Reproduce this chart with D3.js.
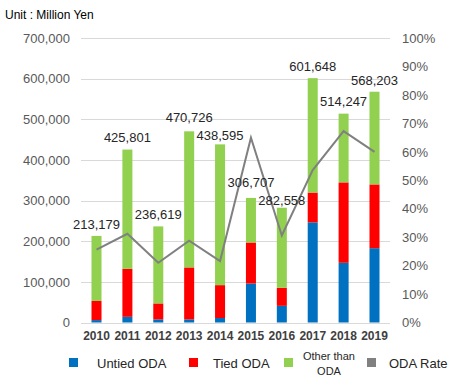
<!DOCTYPE html>
<html><head><meta charset="utf-8">
<script src="https://cdn.jsdelivr.net/npm/d3@7"></script>
<style>body{margin:0;background:#fff}svg{display:block}text{font-family:"Liberation Sans",Arial,sans-serif}</style>
</head><body><svg id="c" width="462" height="388"></svg>
<script>
const years = ["2010","2011","2012","2013","2014","2015","2016","2017","2018","2019"];
const untied = [6000, 14000, 7600, 7600, 11000, 96000, 41000, 246500, 147000, 183000];
const tied = [47000, 118000, 39400, 128000, 81000, 101000, 44500, 73500, 198000, 157000];
const totals = [213179, 425801, 236619, 470726, 438595, 306707, 282558, 601648, 514247, 568203];
const odaRate = [25.6, 31.2, 21.0, 28.8, 21.6, 65.0, 30.6, 53.6, 67.3, 60.0];
const leftTicks = [0,100000,200000,300000,400000,500000,600000,700000];
const rightTicks = [0,10,20,30,40,50,60,70,80,90,100];
const seriesNames = ["Untied ODA","Tied ODA","Other than ODA","ODA Rate"];
const colors = ["#0070C0","#FF0000","#92D050","#808080"];

const other = totals.map((t,i)=>t-untied[i]-tied[i]);
const svg = d3.select("#c");
const x = d3.scaleBand().domain(years).range([81,390]).paddingInner(0.676).paddingOuter(0.34);
const y = d3.scaleLinear().domain([0,700000]).range([322.5,38.2]);
const y2 = d3.scaleLinear().domain([0,100]).range([322.5,38.2]);
const FONT = "Liberation Sans, Arial, sans-serif";

svg.append("text").attr("x",5).attr("y",19).attr("font-size",12).attr("fill","#000").text("Unit : Million Yen");

// gridlines
svg.append("g").selectAll("line").data(leftTicks).join("line")
  .attr("x1",81).attr("x2",390).attr("y1",d=>Math.round(y(d))+0.5).attr("y2",d=>Math.round(y(d))+0.5)
  .attr("stroke","#D9D9D9").attr("stroke-width",1);

// left axis
const la = svg.append("g").attr("transform","translate(81,0)")
  .call(d3.axisLeft(y).tickValues(leftTicks).tickFormat(d3.format(",")).tickSize(0).tickPadding(11));
la.select(".domain").remove();
la.selectAll("text").attr("font-size",13).attr("fill","#595959").attr("font-family",FONT);

// right axis
const ra = svg.append("g").attr("transform","translate(390,0)")
  .call(d3.axisRight(y2).tickValues(rightTicks).tickFormat(d=>d+"%").tickSize(0).tickPadding(12));
ra.select(".domain").remove();
ra.selectAll("text").attr("font-size",13).attr("fill","#595959").attr("font-family",FONT);

// bottom axis
const ba = svg.append("g").attr("transform","translate(0,323)")
  .call(d3.axisBottom(x).tickSize(0).tickPadding(8));
ba.select(".domain").remove();
ba.selectAll("text").attr("font-size",12).attr("font-weight","bold").attr("fill","#404040").attr("font-family",FONT);

// stacked bars
const stackData = years.map((yr,i)=>({year:yr, untied:untied[i], tied:tied[i], other:other[i]}));
const stack = d3.stack().keys(["untied","tied","other"])(stackData);
svg.append("g").selectAll("g").data(stack).join("g").attr("fill",(d,i)=>colors[i])
  .selectAll("rect").data(d=>d).join("rect")
  .attr("x",d=>x(d.data.year)).attr("width",x.bandwidth())
  .attr("y",d=>y(d[1])).attr("height",d=>y(d[0])-y(d[1]));

// rate line
svg.append("path").datum(odaRate).attr("fill","none").attr("stroke",colors[3]).attr("stroke-width",2)
  .attr("d",d3.line().x((d,i)=>x(years[i])+x.bandwidth()/2).y(d=>y2(d)));

// total labels with simple collision spreading between neighbours
const labelW = 48, minGap = 18;
const labs = totals.map((d,i)=>({v:d, cx:x(years[i])+x.bandwidth()/2, cy:y(d)-11.7}));
for(let i=0;i<labs.length-1;i++){
  const a=labs[i], b=labs[i+1];
  if(Math.abs(a.cx-b.cx)<labelW && Math.abs(a.cy-b.cy)<minGap){
    const shift=(minGap-Math.abs(a.cy-b.cy))/2;
    if(a.cy<b.cy){a.cy-=shift;b.cy+=shift;} else {a.cy+=shift;b.cy-=shift;}
  }
}
svg.append("g").selectAll("text").data(labs).join("text")
  .attr("x",d=>d.cx).attr("y",d=>d.cy).attr("dy","0.35em")
  .attr("text-anchor","middle").attr("font-size",13).attr("fill","#262626")
  .text(d=>d3.format(",")(d.v));

// legend
const lg = svg.append("g");
const items = [
  {sx:69, tx:97, name:[seriesNames[0]], c:colors[0]},
  {sx:189, tx:213, name:[seriesNames[1]], c:colors[1]},
  {sx:284, tx:329, name:["Other than","ODA"], c:colors[2], center:true},
  {sx:367, tx:389, name:[seriesNames[3]], c:colors[3]}
];
items.forEach(it=>{
  lg.append("rect").attr("x",it.sx).attr("y",358).attr("width",9).attr("height",9).attr("fill",it.c);
  if(it.center){
    it.name.forEach((t,k)=>lg.append("text").attr("x",it.tx).attr("y",360+k*14.5)
      .attr("text-anchor","middle").attr("font-size",11).attr("fill","#262626").text(t));
  } else {
    lg.append("text").attr("x",it.tx).attr("y",368).attr("font-size",13).attr("fill","#262626").text(it.name[0]);
  }
});
</script></body></html>
